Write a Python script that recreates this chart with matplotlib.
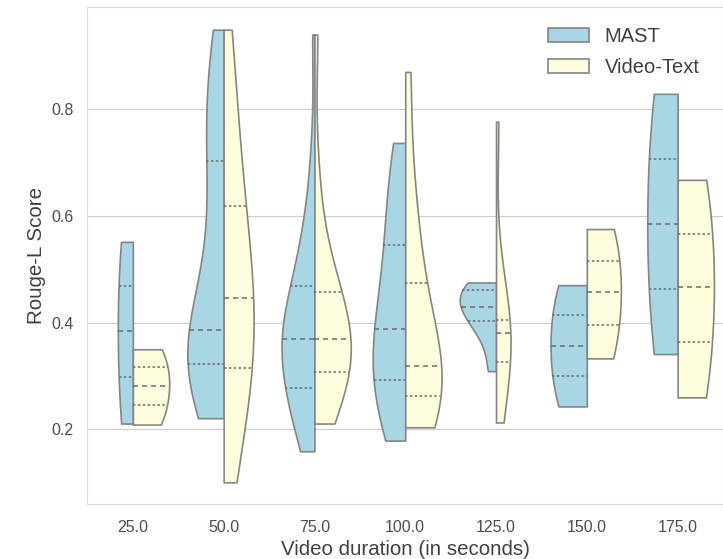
import matplotlib.pyplot as plt
from matplotlib.patches import Patch
import seaborn as sns
import pandas as pd

durations = ["25.0", "50.0", "75.0", "100.0", "125.0", "150.0", "175.0"]
models = ["MAST", "Video-Text"]

# Rouge-L scores per duration bucket
mast_25 = [0.211, 0.384, 0.551]
mast_50 = [0.221, 0.245, 0.265, 0.283, 0.298, 0.311, 0.322, 0.333, 0.344, 0.354, 0.364,
           0.375, 0.386, 0.42, 0.47, 0.53, 0.59, 0.65, 0.702, 0.74, 0.78, 0.82, 0.86,
           0.90, 0.948]
mast_75 = [0.159, 0.18, 0.20, 0.22, 0.235, 0.25, 0.265, 0.277, 0.30, 0.32, 0.335,
           0.345, 0.353, 0.361, 0.369, 0.377, 0.385, 0.395, 0.41, 0.425, 0.445,
           0.468, 0.49, 0.51, 0.54, 0.57, 0.62, 0.72, 0.939]
mast_100 = [0.179, 0.22, 0.26, 0.292, 0.32, 0.35, 0.387, 0.42, 0.48, 0.545, 0.6, 0.67, 0.736]
mast_125 = [0.309, 0.37, 0.402, 0.415, 0.43, 0.445, 0.46, 0.468, 0.475]
mast_150 = [0.243, 0.357, 0.470]
mast_175 = [0.341, 0.584, 0.828]

text_25 = [0.209, 0.282, 0.35]
text_50 = [0.101, 0.17, 0.23, 0.28, 0.314, 0.345, 0.38, 0.41, 0.446,
           0.48, 0.52, 0.57, 0.618, 0.68, 0.75, 0.84, 0.948]
text_75 = [0.211, 0.23, 0.25, 0.27, 0.29, 0.307, 0.32, 0.333, 0.345, 0.357, 0.369,
           0.382, 0.395, 0.41, 0.43, 0.457, 0.48, 0.51, 0.56, 0.68, 0.939]
text_100 = [0.204, 0.225, 0.245, 0.262, 0.28, 0.30, 0.318, 0.35, 0.41, 0.474, 0.55, 0.65, 0.869]
text_125 = [0.213, 0.28, 0.326, 0.36, 0.38, 0.39, 0.404, 0.45, 0.776]
text_150 = [0.333, 0.457, 0.575]
text_175 = [0.26, 0.466, 0.667]

mast_scores = [mast_25, mast_50, mast_75, mast_100, mast_125, mast_150, mast_175]
text_scores = [text_25, text_50, text_75, text_100, text_125, text_150, text_175]

colors = {"MAST": "#a8d6e4", "Video-Text": "#fefedc"}

rows = []
for d, m_vals, t_vals in zip(durations, mast_scores, text_scores):
    for v in m_vals:
        rows.append((d, "MAST", v))
    for v in t_vals:
        rows.append((d, "Video-Text", v))
df = pd.DataFrame(rows, columns=["duration", "model", "score"])

sns.set_style("whitegrid")
plt.rcParams["font.family"] = ["Liberation Sans", "DejaVu Sans"]

fig = plt.figure(figsize=(7.23, 5.59), dpi=100)
ax = fig.add_axes([0.121, 0.098, 0.879, 0.889])

# one call per bucket so the two halves are scaled against each other only
for d in durations:
    sub = df[df["duration"] == d]
    n_before = len(ax.lines)
    sns.violinplot(data=sub, x="duration", y="score", hue="model",
                   order=durations, hue_order=models, split=True,
                   inner="quart", cut=0, common_norm=True,
                   density_norm="area", palette=colors, saturation=1,
                   linecolor="0.52", linewidth=1.2, legend=False, ax=ax)
    # quartiles dotted, median dashed
    for i, ln in enumerate(ax.lines[n_before:]):
        ln.set_color("0.42")
        ln.set_linewidth(1.1)
        if i % 3 == 1:
            ln.set_dashes((3.3, 2.6))
        else:
            ln.set_dashes((1.6, 1.6))

ax.set_xlim(-0.5, 6.5)
ax.set_ylim(0.06, 0.99)
ax.set_yticks([0.2, 0.4, 0.6, 0.8])
ax.tick_params(labelsize=11.5, colors="0.3")
ax.tick_params(axis="x", pad=7.8)
ax.tick_params(axis="y", pad=6.4)
ax.set_xlabel("Video duration (in seconds)", fontsize=14.8, color="0.25")
ax.set_ylabel("Rouge-L Score", fontsize=14.8, color="0.25")
for s in ax.spines.values():
    s.set_color("0.85")

handles = [Patch(facecolor=colors[m], edgecolor="0.52", linewidth=1.2, label=m) for m in models]
ax.legend(handles=handles, loc="upper right", bbox_to_anchor=(0.992, 0.996),
          fontsize=14.5, frameon=False, labelspacing=0.6, labelcolor="0.25")

fig.savefig("out.png", dpi=100)
